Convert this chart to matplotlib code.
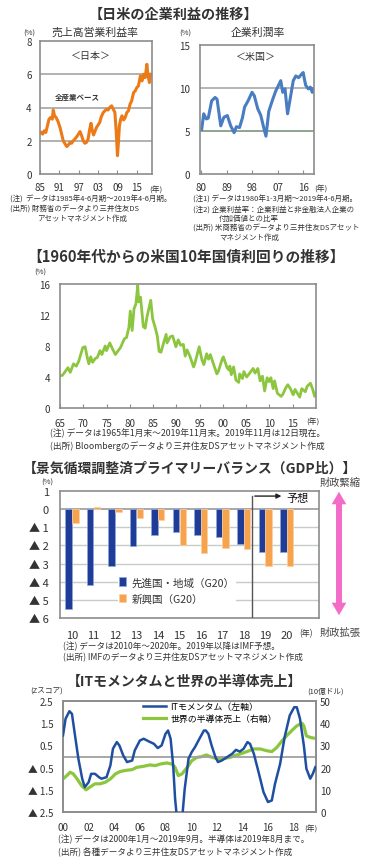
import numpy as np
import matplotlib
matplotlib.use('Agg')
import matplotlib.pyplot as plt
from matplotlib.patches import FancyArrowPatch
from matplotlib.lines import Line2D

plt.rcParams['font.family'] = ['Noto Sans CJK JP', 'DejaVu Sans']

# ---- data ----
# Japan: operating profit margin (all industries), %
jp_year = [1985.3, 1985.8, 1986.3, 1986.8, 1987.3, 1987.8, 1988.3, 1988.8, 1989.1, 1989.5,
           1990.0, 1990.6, 1991.2, 1991.7, 1992.2, 1992.8, 1993.3, 1993.8, 1994.3, 1994.8,
           1995.3, 1995.8, 1996.4, 1996.9, 1997.4, 1997.9, 1998.4, 1998.9, 1999.4, 1999.9,
           2000.4, 2000.8, 2001.2, 2001.6, 2002.1, 2002.5, 2003.0, 2003.5, 2004.0, 2004.6,
           2005.1, 2005.6, 2006.1, 2006.6, 2007.2, 2007.7, 2008.2, 2008.6, 2009.0, 2009.3,
           2009.6, 2010.0, 2010.4, 2010.9, 2011.4, 2011.9, 2012.4, 2012.9, 2013.4, 2014.0,
           2014.5, 2015.0, 2015.5, 2016.1, 2016.6, 2017.1, 2017.6, 2018.1, 2018.4, 2018.9,
           2019.3]
jp_margin = [2.5, 2.4, 2.6, 2.5, 2.9, 3.3, 3.4, 3.3, 3.85, 3.5,
             3.4, 3.15, 2.8, 2.4, 2.0, 1.8, 1.65, 1.75, 1.9, 1.85,
             2.0, 2.1, 2.25, 2.4, 2.55, 2.3, 2.0, 1.85, 1.9, 2.1,
             2.7, 3.05, 2.6, 2.35, 2.6, 2.8, 2.95, 3.1, 3.45, 3.7,
             3.8, 3.9, 3.85, 4.0, 4.1, 3.9, 3.7, 2.6, 1.1, 1.9,
             2.9, 3.3, 3.5, 3.25, 3.4, 3.7, 3.8, 4.2, 4.4, 4.9,
             5.0, 5.2, 5.3, 5.9, 5.6, 6.0, 5.8, 6.6, 6.0, 5.5,
             6.0]

# US: corporate profit rate, %
us_year = [1980.2, 1980.9, 1981.8, 1982.5, 1983.7, 1984.9, 1985.6, 1986.9, 1988.0, 1989.2,
           1990.4, 1991.6, 1992.4, 1993.5, 1994.5, 1995.3, 1996.5, 1997.9, 1998.7, 1999.9,
           2001.0, 2002.0, 2002.8, 2003.8, 2005.2, 2006.3, 2007.2, 2008.0, 2008.7, 2009.5,
           2010.4, 2011.3, 2012.4, 2013.3, 2014.3, 2015.3, 2015.9, 2016.4, 2016.8, 2017.7,
           2018.4, 2019.1, 2019.5]
us_profit = [5.2, 7.0, 6.4, 6.5, 8.5, 8.9, 8.7, 5.6, 6.6, 6.8,
             5.6, 4.8, 5.5, 5.4, 6.5, 7.8, 8.5, 9.5, 9.1, 7.6,
             6.8, 5.4, 4.4, 7.3, 8.7, 9.7, 10.3, 10.85, 9.5, 9.9,
             7.0, 8.7, 10.85, 11.4, 11.2, 11.6, 11.8, 10.9, 10.3, 9.9,
             10.1, 9.5, 9.9]

# US 10y treasury yield, %
ust_year = [1965.0, 1965.5, 1966.0, 1966.7, 1967.2, 1967.9, 1968.5, 1969.0, 1969.9, 1970.4,
            1970.9, 1971.2, 1971.6, 1972.0, 1972.6, 1973.0, 1973.6, 1974.0, 1974.7, 1975.0,
            1975.7, 1976.3, 1976.9, 1977.5, 1978.0, 1978.8, 1979.3, 1979.8, 1980.1, 1980.5,
            1980.9, 1981.3, 1981.7, 1981.9, 1982.3, 1982.9, 1983.3, 1983.7, 1984.5, 1984.9,
            1985.4, 1985.9, 1986.3, 1986.7, 1987.3, 1987.8, 1988.0, 1988.7, 1989.2, 1989.9,
            1990.4, 1990.9, 1991.5, 1991.9, 1992.3, 1992.9, 1993.7, 1994.0, 1994.9, 1995.5,
            1995.9, 1996.5, 1996.9, 1997.3, 1997.9, 1998.7, 1999.0, 1999.9, 2000.1, 2000.9,
            2001.3, 2001.5, 2001.8, 2002.3, 2002.8, 2003.4, 2003.6, 2004.2, 2004.5, 2005.1,
            2005.5, 2006.5, 2006.9, 2007.5, 2008.0, 2008.5, 2008.95, 2009.5, 2009.9, 2010.3,
            2010.8, 2011.1, 2011.7, 2012.5, 2012.9, 2013.5, 2013.95, 2014.5, 2015.1, 2015.5,
            2016.5, 2016.95, 2017.7, 2018.1, 2018.8, 2019.3, 2019.7, 2019.9]
ust_yield = [4.2, 4.2, 4.6, 5.2, 4.6, 5.7, 5.4, 6.0, 7.8, 7.9,
             6.4, 5.7, 6.6, 5.9, 6.4, 6.5, 7.4, 6.9, 8.0, 7.4,
             8.4, 7.6, 6.9, 7.4, 7.8, 8.9, 9.1, 10.4, 12.5, 10.0,
             12.8, 13.4, 15.8, 13.7, 14.3, 10.5, 10.3, 11.8, 13.9, 11.5,
             10.5, 9.3, 7.3, 7.2, 8.5, 9.5, 8.4, 9.2, 9.3, 7.9,
             8.8, 8.1, 8.2, 6.7, 7.5, 6.7, 5.3, 5.8, 7.9, 6.2,
             5.6, 7.0, 6.3, 6.9, 5.8, 4.4, 4.7, 6.4, 6.6, 5.2,
             4.9, 5.4, 4.3, 5.3, 3.6, 3.3, 4.4, 3.8, 4.7, 4.0,
             4.3, 5.1, 4.5, 5.1, 3.5, 4.1, 2.2, 3.9, 3.4, 3.9,
             2.5, 3.5, 1.9, 1.5, 1.8, 2.6, 3.0, 2.5, 1.7, 2.4,
             1.4, 2.5, 2.1, 2.8, 3.2, 2.4, 1.5, 1.9]

# cyclically adjusted primary balance, % of GDP
pb_years = ['10', '11', '12', '13', '14', '15', '16', '17', '18', '19', '20']
pb_advanced = [-5.5, -4.2, -3.13, -2.04, -1.4, -1.25, -1.44, -1.53, -1.93, -2.36, -2.36]
pb_emerging = [-0.79, 0.12, -0.15, -0.48, -0.6, -1.95, -2.39, -2.14, -2.21, -3.13, -3.15]
pb_forecast_from = '19'

# IT momentum (z-score, left) and world semiconductor sales (bn USD, right)
it_year = [2000.0, 2000.2, 2000.5, 2000.7, 2000.9, 2001.2, 2001.5, 2001.7, 2002.0, 2002.2,
           2002.5, 2002.8, 2003.0, 2003.4, 2003.7, 2003.9, 2004.2, 2004.4, 2004.7, 2005.0,
           2005.4, 2005.6, 2006.0, 2006.3, 2006.7, 2007.1, 2007.4, 2007.7, 2008.0, 2008.2,
           2008.4, 2008.6, 2008.75, 2008.9, 2009.1, 2009.3, 2009.5, 2009.8, 2010.05, 2010.3,
           2010.65, 2011.0, 2011.15, 2011.35, 2011.6, 2011.9, 2012.1, 2012.4, 2012.8, 2013.2,
           2013.5, 2013.8, 2014.1, 2014.4, 2014.6, 2014.9, 2015.3, 2015.65, 2016.0, 2016.3,
           2016.55, 2016.95, 2017.3, 2017.7, 2018.05, 2018.25, 2018.5, 2018.8, 2019.0, 2019.3,
           2019.5, 2019.7]
it_momentum = [0.95, 1.7, 2.04, 1.92, 1.1, -0.1, -1.0, -1.38, -1.16, -0.78,
               -0.78, -0.93, -1.0, -0.93, -0.4, 0.35, 0.65, 0.5, 0.05, -0.25,
               -0.18, 0.27, 0.72, 0.8, 0.68, 0.57, 0.38, 0.5, 1.02, 1.17,
               0.8, -0.4, -1.9, -2.8, -3.6, -2.8, -1.46, -0.1, 0.2, 0.42,
               0.8, 1.17, 1.17, 1.02, 0.5, -0.03, -0.25, -0.18, -0.03, 0.12,
               0.3, 0.22, 0.35, 0.65, 0.57, 0.12, -0.78, -1.6, -2.05, -1.98,
               -1.23, -0.33, 0.87, 1.85, 2.22, 2.22, 1.7, 0.5, -0.55, -1.0,
               -0.78, -0.48]
semi_year = [2000.0, 2000.3, 2000.55, 2000.8, 2001.1, 2001.45, 2001.8, 2002.1, 2002.5, 2002.9,
             2003.3, 2003.7, 2004.1, 2004.45, 2004.85, 2005.4, 2005.75, 2006.3, 2006.8, 2007.2,
             2007.6, 2008.1, 2008.5, 2008.75, 2009.0, 2009.3, 2009.5, 2009.8, 2010.05, 2010.45,
             2010.8, 2011.2, 2011.5, 2011.9, 2012.3, 2012.65, 2013.05, 2013.4, 2013.8, 2014.35,
             2014.9, 2015.4, 2015.9, 2016.3, 2016.7, 2017.1, 2017.5, 2017.9, 2018.25, 2018.65,
             2018.8, 2019.0, 2019.3, 2019.55]
semi_sales = [14.9, 16.4, 17.9, 17.2, 14.9, 11.9, 10.0, 11.2, 12.7, 12.7,
              13.4, 14.9, 17.2, 18.2, 18.7, 19.1, 20.1, 20.6, 21.2, 20.9,
              21.6, 22.1, 21.6, 20.1, 16.4, 17.2, 18.7, 20.9, 23.1, 24.6,
              24.9, 25.7, 24.9, 24.2, 23.9, 24.2, 24.6, 25.4, 26.1, 27.2,
              28.4, 28.4, 27.6, 27.2, 29.1, 32.1, 34.6, 36.9, 38.8, 40.0,
              38.8, 34.3, 33.6, 33.3]

ORANGE = '#ec7a17'
STEEL = '#4a7cc2'
GREEN = '#8cc63f'
NAVY = '#1f3c98'
BAR_OR = '#f7a24c'
IT_BLUE = '#1f4fa0'
PINK = '#f26cc8'
FRAME = '#8c8c8c'
INK = '#333333'

W, H = 383, 862
fig = plt.figure(figsize=(W / 100, H / 100), dpi=100)


def box(x0, y0, x1, y1):
    return fig.add_axes([x0 / W, 1 - y1 / H, (x1 - x0) / W, (y1 - y0) / H])


def txt(x, y, s, size=5.6, ha='left', **kw):
    fig.text(x / W, 1 - y / H, s, fontsize=size, ha=ha, va='center', color=kw.pop('color', INK), **kw)


def style(ax, size=7):
    for sp in ax.spines.values():
        sp.set_color(FRAME)
        sp.set_linewidth(1.2)
    ax.tick_params(colors=INK, labelsize=size)


def yy(years):
    return ["%02d" % (y % 100) for y in years]


# ================= panel 1 : Japan / US corporate profit =================
txt(173, 15, '【日米の企業利益の推移】', size=10.2, ha='center', weight='bold')

ax1 = box(40, 42, 152, 175)
style(ax1)
ax1.plot(jp_year, jp_margin, color=ORANGE, lw=2.2)
ax1.set_xlim(1985, 2019.7)
ax1.set_ylim(0, 8)
ax1.set_yticks([0, 2, 4, 6, 8])
for v in [2, 4, 6]:
    ax1.axhline(v, color='#ababab', lw=1.3, zorder=0)
xt = [1985, 1991, 1997, 2003, 2009, 2015]
ax1.set_xticks(xt)
ax1.set_xticklabels(yy(xt))
ax1.tick_params(axis='x', direction='in', length=3, pad=6, color=FRAME)
ax1.tick_params(axis='y', length=0, pad=6)
txt(95, 33, '売上高営業利益率', size=7.8, ha='center')
txt(29, 34, '(%)', size=5.5, ha='center')
txt(91, 56, '＜日本＞', size=7.2, ha='center')
txt(55, 97, '全産業ベース', size=5.4, weight='bold')
txt(156, 191, '(年)', size=5.6, ha='center')

ax2 = box(200, 46, 314, 175)
style(ax2)
ax2.plot(us_year, us_profit, color=STEEL, lw=2.2)
ax2.set_xlim(1979.6, 2019.7)
ax2.set_ylim(0, 15)
ax2.set_yticks([0, 5, 10, 15])
ax2.axhline(10, color='#a8a8a8', lw=1.2, zorder=0)
ax2.axhline(5, color='#7d967d', lw=1.2, zorder=0)
xt = [1980, 1989, 1998, 2007, 2016]
ax2.set_xticks(xt)
ax2.set_xticklabels(yy(xt))
ax2.tick_params(axis='x', direction='in', length=3, pad=6, color=FRAME)
ax2.tick_params(axis='y', length=0, pad=7)
txt(258, 33, '企業利潤率', size=7.8, ha='center')
txt(185, 34, '(%)', size=5.5, ha='center')
txt(256, 57, '＜米国＞', size=7.2, ha='center')
txt(321, 190, '(年)', size=5.6, ha='center')

txt(10, 200, '(注)  データは1985年4-6月期～2019年4-6月期。', size=5.4)
txt(10, 210, '(出所) 財務省のデータより三井住友DS', size=5.4)
txt(37, 219, 'アセットマネジメント作成', size=5.4)
txt(193, 200, '(注1) データは1980年1-3月期～2019年4-6月期。', size=5.4)
txt(193, 210, '(注2) 企業利益率：企業利益と非金融法人企業の', size=5.4)
txt(219, 219, '付加価値との比率', size=5.4)
txt(193, 229, '(出所) 米商務省のデータより三井住友DSアセット', size=5.4)
txt(219, 238, 'マネジメント作成', size=5.4)

# ================= panel 2 : US 10y yield =================
txt(186, 257, '【1960年代からの米国10年国債利回りの推移】', size=10.6, ha='center', weight='bold')
ax3 = box(60, 285, 316, 409)
style(ax3)
ax3.plot(ust_year, ust_yield, color=GREEN, lw=2.0)
ax3.set_xlim(1965, 2020)
ax3.set_ylim(0, 16)
ax3.set_yticks([0, 4, 8, 12, 16])
xt = list(range(1965, 2020, 5))
ax3.set_xticks(xt)
ax3.set_xticklabels(yy(xt))
ax3.tick_params(axis='x', direction='in', length=3, pad=7, color=FRAME)
ax3.tick_params(axis='y', length=0, pad=7)
txt(40, 273, '(%)', size=5.5, ha='center')
txt(313, 423, '(年)', size=5.6, ha='center')
txt(50, 433, '(注) データは1965年1月末～2019年11月末。2019年11月は12日現在。', size=6.3)
txt(50, 446, '(出所) Bloombergのデータより三井住友DSアセットマネジメント作成', size=6.3)

# ================= panel 3 : primary balance =================
txt(190, 469, '【景気循環調整済プライマリーバランス（GDP比）】', size=10.0, ha='center', weight='bold')
ax4 = box(60, 492, 319, 619)
style(ax4, size=8)
x = np.arange(len(pb_years))
ax4.bar(x - 0.155, pb_advanced, width=0.3, color=NAVY, edgecolor='#8ea8dc', lw=0.5, zorder=2,
        label='先進国・地域（G20）')
ax4.bar(x + 0.155, pb_emerging, width=0.3, color=BAR_OR, edgecolor='#fbd0a0', lw=0.5, zorder=2,
        label='新興国（G20）')
for v in range(-5, 0):
    ax4.axhline(v, color='#c6ccc6', lw=1.0, zorder=0)
ax4.axhline(0, color='#9a9a9a', lw=1.2, zorder=1)
ax4.set_xlim(-0.56, 11.5)
ax4.set_ylim(-6, 1)
yt = list(range(1, -7, -1))
ax4.set_yticks(yt)
ax4.set_yticklabels([str(v) if v >= 0 else '▲ %d' % -v for v in yt])
ax4.set_xticks(x)
ax4.set_xticklabels(pb_years)
ax4.tick_params(axis='x', length=0, pad=9)
ax4.tick_params(axis='y', length=0, pad=8)
# forecast box
fx = pb_years.index(pb_forecast_from) - 0.62
ax4.plot([fx, fx], [-6, 0.72], color='#555555', lw=1.0, zorder=3)
ax4.annotate('', xy=(fx + 1.5, 0.72), xytext=(fx, 0.72),
             arrowprops=dict(arrowstyle='-|>', color='#222222', lw=1.0, mutation_scale=7))
ax4.text(fx + 1.58, 0.62, '予想', fontsize=8, va='center', ha='left', color='#111111')
leg = ax4.legend(loc='upper left', bbox_to_anchor=(118 / W, 1 - 577 / H), bbox_transform=fig.transFigure,
                 fontsize=7.6, frameon=True, facecolor='white', edgecolor='none', framealpha=1,
                 handlelength=0.7, handleheight=0.9, handletextpad=0.5, labelspacing=0.55,
                 borderpad=0.1, borderaxespad=0)
for t in leg.get_texts():
    t.set_color(INK)
txt(47, 483, '(%)', size=5.5, ha='center')
txt(340, 483, '財政緊縮', size=7.4, ha='center', color='#444444')
txt(340, 633, '財政拡張', size=7.4, ha='center', color='#444444')
txt(306, 634, '(年)', size=5.8, ha='center')
# pink double arrow: two halves overlapping in the middle
for start, tip in ((565, 490), (545, 619)):
    fig.patches.append(FancyArrowPatch((339 / W, 1 - start / H), (339 / W, 1 - tip / H),
                                       transform=fig.transFigure, color=PINK, lw=0,
                                       arrowstyle='simple,head_length=9,head_width=10.5,tail_width=4.3',
                                       mutation_scale=1))
txt(63, 647, '(注) データは2010年～2020年。2019年以降はIMF予想。', size=6.2)
txt(63, 658, '(出所) IMFのデータより三井住友DSアセットマネジメント作成', size=6.2)

# ================= panel 4 : IT momentum =================
txt(184, 682, '【ITモメンタムと世界の半導体売上】', size=10.0, ha='center', weight='bold')
ax5 = box(63, 702, 316, 813)
style(ax5)
ax5.axhline(0, color='#a0a0a0', lw=1.3, zorder=0)
ax5.plot(it_year, it_momentum, color=IT_BLUE, lw=1.8, zorder=3)
ax5.set_xlim(2000, 2019.75)
ax5.set_ylim(-2.5, 2.5)
yt = [2.5, 1.5, 0.5, -0.5, -1.5, -2.5]
ax5.set_yticks(yt)
ax5.set_yticklabels(['%.1f' % v if v > 0 else '▲ %.1f' % -v for v in yt])
xt = list(range(2000, 2020, 2))
ax5.set_xticks(xt)
ax5.set_xticklabels(yy(xt))
ax5.tick_params(axis='x', length=0, pad=7)
ax5.tick_params(axis='y', length=0, pad=7)
ax5b = ax5.twinx()
style(ax5b)
ax5b.plot(semi_year, semi_sales, color=GREEN, lw=2.3, zorder=2)
ax5b.set_ylim(0, 50)
ax5b.set_yticks(range(0, 60, 10))
ax5b.tick_params(axis='y', length=0, pad=3)
ax5.set_zorder(ax5b.get_zorder() + 1)
ax5.patch.set_visible(False)
handles = [Line2D([], [], color=IT_BLUE, lw=1.8), Line2D([], [], color=GREEN, lw=2.3)]
ax5.legend(handles, ['ITモメンタム（左軸）', '世界の半導体売上（右軸）'], loc='upper left',
           bbox_to_anchor=(143 / W, 1 - 703 / H), bbox_transform=fig.transFigure,
           fontsize=6.4, frameon=False, handlelength=2.6, handletextpad=0.5,
           labelspacing=0.35, borderpad=0, borderaxespad=0)
txt(47, 692, '(Zスコア)', size=5.5, ha='center')
txt(326, 692, '(10億ドル)', size=5.5, ha='center')
txt(311, 830, '(年)', size=5.6, ha='center')
txt(58, 840, '(注) データは2000年1月～2019年9月。半導体は2019年8月まで。', size=6.2)
txt(58, 852, '(出所) 各種データより三井住友DSアセットマネジメント作成', size=6.2)

fig.savefig('out.png', dpi=100)
